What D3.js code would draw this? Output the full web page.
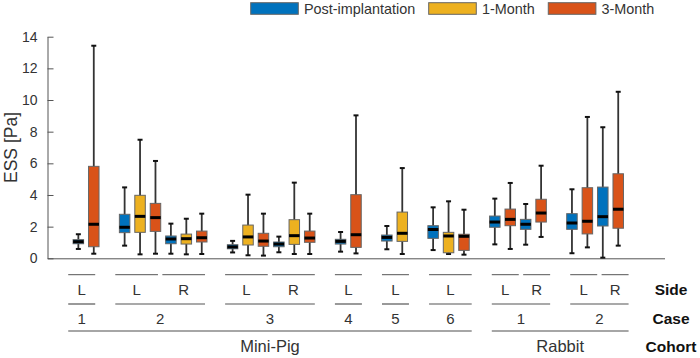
<!DOCTYPE html>
<html lang="en">
<head>
<meta charset="UTF-8">
<title>ESS by cohort, case and side</title>
<script src="https://d3js.org/d3.v7.min.js"></script>
<style>
  body { margin: 0; background: #fff; }
  text { font-family: "Liberation Sans", Arial, sans-serif; }
</style>
</head>
<body>
<script>
// time points (legend) and their colours
const timepoints = ["Post-implantation", "1-Month", "3-Month"];
const colors = ["#0072BD", "#EDB120", "#D95319"];

// one entry per Side group, left to right
const groupCohort = ["Mini-Pig", "Mini-Pig", "Mini-Pig", "Mini-Pig", "Mini-Pig", "Mini-Pig", "Mini-Pig", "Mini-Pig", "Rabbit", "Rabbit", "Rabbit", "Rabbit"];
const groupCase = ["1", "2", "2", "3", "3", "4", "5", "6", "1", "1", "2", "2"];
const groupSide = ["L", "L", "R", "L", "R", "L", "L", "L", "L", "R", "L", "R"];
const groupTimes = [[0, 2], [0, 1, 2], [0, 1, 2], [0, 1, 2], [0, 1, 2], [0, 2], [0, 1], [0, 1, 2], [0, 2], [0, 2], [0, 2], [0, 2]];

// box statistics, one value per box in drawing order (ESS, Pa)
const whiskerLow = [0.59, 0.29, 0.80, 0.25, 0.29, 0.29, 0.25, 0.27, 0.37, 0.19, 0.17, 0.38, 0.27, 0.27, 0.42, 0.31, 0.57, 0.27, 0.52, 0.27, 0.23, 0.88, 0.59, 0.86, 1.35, 0.32, 0.69, 0.04, 0.80];
const q1 = [0.92, 0.73, 1.62, 1.64, 1.70, 0.92, 0.90, 1.03, 0.60, 0.84, 0.76, 0.73, 0.88, 1.01, 0.90, 0.69, 1.09, 1.07, 1.26, 0.35, 0.50, 1.96, 2.06, 1.83, 2.29, 1.83, 1.54, 2.04, 1.90];
const median = [1.05, 2.15, 1.96, 2.65, 2.57, 1.22, 1.24, 1.30, 0.72, 1.35, 1.09, 0.90, 1.43, 1.28, 1.07, 1.49, 1.32, 1.58, 1.82, 1.41, 1.39, 2.29, 2.46, 2.15, 2.86, 2.23, 2.34, 2.63, 3.10];
const q3 = [1.18, 5.81, 2.78, 3.98, 3.47, 1.41, 1.53, 1.72, 0.86, 2.10, 1.58, 1.03, 2.44, 1.72, 1.20, 4.02, 1.47, 2.92, 2.06, 1.64, 1.52, 2.67, 3.11, 2.46, 3.73, 2.82, 4.46, 4.50, 5.34];
const whiskerHigh = [1.52, 13.43, 4.48, 7.49, 6.15, 2.19, 2.50, 2.82, 1.10, 4.02, 2.82, 1.37, 4.78, 2.82, 1.66, 9.03, 2.04, 5.70, 3.22, 3.60, 3.07, 3.77, 4.76, 3.43, 5.85, 4.36, 8.93, 8.28, 10.52];

const yTicks = [0, 2, 4, 6, 8, 10, 12, 14];
const levelNames = ["Side", "Case", "Cohort"];

const width = 700, height = 358;
const svg = d3.select("body").append("svg")
  .attr("width", width)
  .attr("height", height);

// lay boxes out on slots, one empty slot between cases
const boxes = [];
const groups = [];
let slot = 0, prevKey = null;
groupSide.forEach((side, i) => {
  const key = groupCohort[i] + "|" + groupCase[i];
  if (prevKey !== null && key !== prevKey) slot += 1;
  const g = { cohort: groupCohort[i], kase: groupCase[i], side: side, key: key, first: slot };
  groupTimes[i].forEach(t => {
    const k = boxes.length;
    boxes.push({ t: t, slot: slot, lo: whiskerLow[k], q1: q1[k], med: median[k], q3: q3[k], hi: whiskerHigh[k] });
    slot += 1;
  });
  g.last = slot - 1;
  groups.push(g);
  prevKey = key;
});

// merge consecutive groups into cases and cohorts
function spans(keyFn, labelFn) {
  const out = [];
  groups.forEach(g => {
    const last = out[out.length - 1];
    if (last && last.key === keyFn(g)) last.last = g.last;
    else out.push({ key: keyFn(g), label: labelFn(g), first: g.first, last: g.last });
  });
  return out;
}
const cases = spans(g => g.key, g => g.kase);
const cohorts = spans(g => g.cohort, g => g.cohort);

const x = d3.scaleLinear().domain([-2, 38]).range([47.5, 664.5]);
const y = d3.scaleLinear().domain([0, 14]).range([258.3, 36.7]);
// the label rows below the axis sit on a slightly wider scale
const xl = d3.scaleLinear().domain([-2, 38]).range([42.5, 670]);

// axes
const yAxis = svg.append("g")
  .attr("transform", `translate(${x(-2)},0)`)
  .call(d3.axisLeft(y).tickValues(yTicks).tickSizeInner(-6).tickSizeOuter(0).tickPadding(10));
yAxis.selectAll("text").attr("font-size", "14px").attr("fill", "#333").attr("font-family", "Liberation Sans, Arial, sans-serif");
yAxis.selectAll("line").attr("stroke", "#555");
yAxis.select(".domain").attr("stroke", "#555");

const xAxis = svg.append("g")
  .attr("transform", `translate(0,${y(0)})`)
  .call(d3.axisBottom(x).tickValues([]).tickSizeOuter(0));
xAxis.select(".domain").attr("stroke", "#555");

svg.append("text")
  .attr("transform", `translate(17,${(y(0) + y(14)) / 2}) rotate(-90)`)
  .attr("text-anchor", "middle")
  .attr("font-size", "17.5px")
  .attr("fill", "#333")
  .text("ESS [Pa]");

// boxes
const boxW = 10.5, capW = 5;
const bx = svg.append("g").selectAll("g")
  .data(boxes)
  .join("g");

bx.append("line")
  .attr("x1", d => x(d.slot)).attr("x2", d => x(d.slot))
  .attr("y1", d => y(d.hi)).attr("y2", d => y(d.lo))
  .attr("stroke", "#333").attr("stroke-width", 1.8);

bx.selectAll(".cap")
  .data(d => [[d.slot, d.hi], [d.slot, d.lo]])
  .join("line")
  .attr("class", "cap")
  .attr("x1", d => x(d[0]) - capW / 2).attr("x2", d => x(d[0]) + capW / 2)
  .attr("y1", d => y(d[1])).attr("y2", d => y(d[1]))
  .attr("stroke", "#111").attr("stroke-width", 2);

bx.append("rect")
  .attr("x", d => x(d.slot) - boxW / 2)
  .attr("width", boxW)
  .attr("y", d => y(d.q3))
  .attr("height", d => y(d.q1) - y(d.q3))
  .attr("fill", d => colors[d.t])
  .attr("stroke", "#666").attr("stroke-width", 1);

bx.append("line")
  .attr("x1", d => x(d.slot) - boxW / 2).attr("x2", d => x(d.slot) + boxW / 2)
  .attr("y1", d => y(d.med)).attr("y2", d => y(d.med))
  .attr("stroke", "#000").attr("stroke-width", 3);

// legend
const legend = svg.append("g");
let lx = 250.7;
timepoints.forEach((name, i) => {
  legend.append("rect")
    .attr("x", lx).attr("y", 2.7)
    .attr("width", 47.6).attr("height", 11.6)
    .attr("fill", colors[i])
    .attr("stroke", "#666").attr("stroke-width", 1);
  const t = legend.append("text")
    .attr("x", lx + 53.3).attr("y", 14)
    .attr("font-size", "14.4px")
    .attr("fill", "#333")
    .text(name);
  lx += 53.3 + t.node().getComputedTextLength() + 13.5;
});

// hierarchical category labels
const pad = 0.36;
const rows = [
  { data: groups, lineY: 274.7, textY: 295.3, label: d => d.side, size: "15px", stroke: "#555", sw: 1 },
  { data: cases, lineY: 304, textY: 323.7, label: d => d.label, size: "15px", stroke: "#555", sw: 1.2 },
  { data: cohorts, lineY: 331, textY: 351.5, label: d => d.label, size: "16.5px", stroke: "#888", sw: 1.6 }
];
rows.forEach(r => {
  const g = svg.append("g");
  g.selectAll("line")
    .data(r.data)
    .join("line")
    .attr("x1", d => xl(d.first - pad)).attr("x2", d => xl(d.last + pad))
    .attr("y1", r.lineY).attr("y2", r.lineY)
    .attr("stroke", r.stroke).attr("stroke-width", r.sw);
  g.selectAll("text")
    .data(r.data)
    .join("text")
    .attr("x", d => (xl(d.first - pad) + xl(d.last + pad)) / 2)
    .attr("y", r.textY)
    .attr("text-anchor", "middle")
    .attr("font-size", r.size)
    .attr("fill", "#333")
    .text(r.label);
});

// level names, centred in the right margin
svg.append("g").selectAll("text")
  .data(levelNames)
  .join("text")
  .attr("x", 671)
  .attr("y", (d, i) => rows[i].textY)
  .attr("text-anchor", "middle")
  .attr("font-size", "15.5px")
  .attr("font-weight", "bold")
  .attr("fill", "#111")
  .text(d => d);
</script>
</body>
</html>
